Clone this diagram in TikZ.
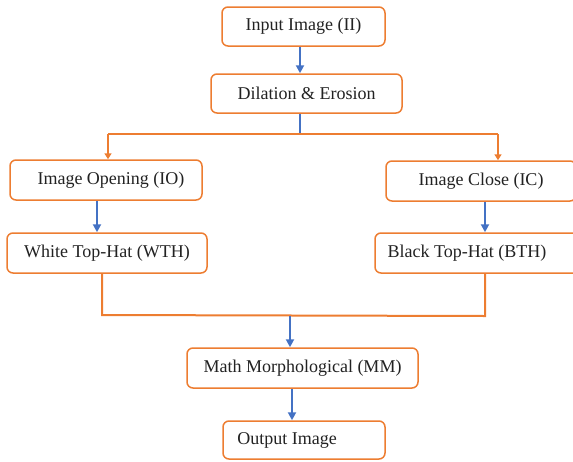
\documentclass[tikz,border=0pt]{standalone}
\usepackage{fontspec}
\setmainfont{Liberation Serif}
\usetikzlibrary{arrows.meta}
\definecolor{borange}{HTML}{ED7D31}
\definecolor{bblue}{HTML}{4472C4}
\definecolor{btext}{HTML}{222222}
\begin{document}
\begin{tikzpicture}[x=1pt,y=-1pt,
  box/.style={draw=borange, line width=1.5pt, rounded corners=6pt, fill=white,
    text=btext, font=\fontsize{18}{21.6}\selectfont, inner sep=0pt},
  barrow/.style={draw=bblue, line width=2pt, -{Triangle[width=8pt,length=8pt]}},
  bline/.style={draw=bblue, line width=2pt},
  oline/.style={draw=borange, line width=2pt},
  oarrow/.style={draw=borange, line width=2pt, -{Triangle[width=7pt,length=6pt]}}]
\useasboundingbox (0,0) rectangle (573,461);
\begin{scope}
\clip (0,0) rectangle (573,461);
\node[box, minimum width=163pt, minimum height=39pt] (in) at (303.5,26.5) {Input Image (II)};
\node[box, minimum width=191pt, minimum height=39pt] (dil) at (306.5,93.5) {Dilation \& Erosion};
\node[box, minimum width=192pt, minimum height=40pt] (io) at (106,180) {\hspace*{10pt}Image Opening (IO)};
\node[box, minimum width=190pt, minimum height=40pt] (ic) at (481,181) {Image Close (IC)};
\node[box, minimum width=200pt, minimum height=40pt] (wth) at (107,253) {White Top-Hat (WTH)};
\node[box, minimum width=205pt, minimum height=40pt] (bth) at (477.5,253) {Black Top-Hat (BTH)\hspace*{21pt}};
\node[box, minimum width=231pt, minimum height=40pt] (mm) at (302.5,368) {Math Morphological (MM)};
\node[box, minimum width=162pt, minimum height=38pt] (out) at (304,440) {Output Image\hspace*{34pt}};
\end{scope}
% connectors
\coordinate (split) at (300,134);
\coordinate (tl) at (108,134);
\coordinate (tr) at (498,134);
\coordinate (bl) at (102,315);
\coordinate (br) at (485,316);
\coordinate (join) at (290,316);
\draw[barrow] (in.south -| split) -- (dil.north -| split);
\draw[bline] (dil.south -| split) -- (split);
\draw[oline] (tl) -- (tr);
\draw[oarrow] (tl) -- (tl |- io.north);
\draw[oarrow] (tr) -- (tr |- ic.north);
\draw[barrow] (io.south -| 97,0) -- (wth.north -| 97,0);
\draw[barrow] (ic.south -| 485,0) -- (bth.north -| 485,0);
\draw[oline] (wth.south -| bl) -- (bl) -- (br) -- (bth.south -| br);
\draw[barrow] (join) -- (mm.north -| join);
\draw[barrow] (mm.south -| 292,0) -- (out.north -| 292,0);
\end{tikzpicture}
\end{document}
